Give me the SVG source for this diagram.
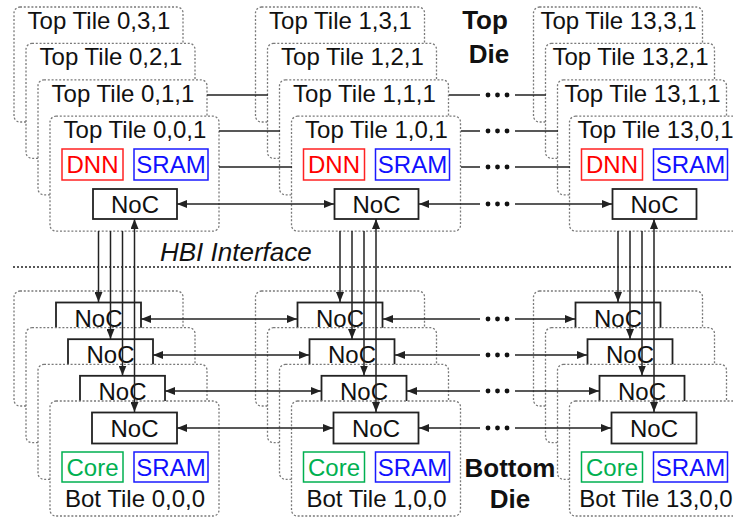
<svg xmlns="http://www.w3.org/2000/svg" width="733" height="517" viewBox="0 0 733 517">
  <style>
    text { font-family: "Liberation Sans", Arial, sans-serif; font-size: 24px; fill: #111; }
    .tile { fill: #fff; stroke: #7a7a7a; stroke-width: 1.3; stroke-dasharray: 2 1.8; }
    .noc { fill: #fff; stroke: #222; stroke-width: 1.8; }
    .dnn { fill: #fff; stroke: #f22; stroke-width: 1.5; }
    .sram { fill: #fff; stroke: #1a1aff; stroke-width: 1.5; }
    .core { fill: #fff; stroke: #00b050; stroke-width: 1.5; }
    .t-dnn { fill: #f00; }
    .t-sram { fill: #1010ff; }
    .t-core { fill: #00b050; }
    .c { text-anchor: middle; }
    .die { font-weight: bold; font-size: 26px; text-anchor: middle; }
    .hbi { font-style: italic; font-size: 26px; }
    .wire { fill: none; stroke: #222; stroke-width: 1.5; }
    .arr { marker-end: url(#ah); }
    .bi { marker-start: url(#ah); marker-end: url(#ah); }
    .dot { fill: #111; }
    .iface { stroke: #222; stroke-width: 1.3; stroke-dasharray: 2 2; }
  </style>
  <defs>
    <marker id="ah" viewBox="0 0 10 8" refX="10" refY="4" markerWidth="10" markerHeight="8" markerUnits="userSpaceOnUse" orient="auto-start-reverse">
      <path d="M0,0 L10,4 L0,8 Z" fill="#222"/>
    </marker>
  </defs>

  <rect width="733" height="517" fill="#fff"/>

  <!-- Top die, column 0 -->
  <g id="top-tile-0-3-1"><rect class="tile" x="14" y="7" width="169" height="115" rx="6"/><text class="c" x="99" y="29">Top Tile 0,3,1</text></g>
  <g id="top-tile-0-2-1"><rect class="tile" x="26" y="43.4" width="169" height="115" rx="6"/><text class="c" x="111" y="65.4">Top Tile 0,2,1</text></g>
  <g id="top-tile-0-1-1"><rect class="tile" x="38" y="79.8" width="169" height="115" rx="6"/><text class="c" x="123" y="101.8">Top Tile 0,1,1</text></g>
  <g id="top-tile-0-0-1">
    <rect class="tile" x="50" y="116.2" width="169" height="115" rx="6"/>
    <text class="c" x="135" y="138.2">Top Tile 0,0,1</text>
    <rect class="dnn" x="62" y="149" width="61" height="31"/><text class="c t-dnn" x="92.5" y="173">DNN</text>
    <rect class="sram" x="134" y="149" width="74" height="31"/><text class="c t-sram" x="171" y="173">SRAM</text>
    <rect class="noc" x="93" y="189" width="84" height="30"/><text class="c" x="135" y="212.5">NoC</text>
  </g>

  <!-- Top die, column 1 -->
  <g id="top-tile-1-3-1"><rect class="tile" x="255.5" y="7" width="169" height="115" rx="6"/><text class="c" x="340.5" y="29">Top Tile 1,3,1</text></g>
  <g id="top-tile-1-2-1"><rect class="tile" x="267.5" y="43.4" width="169" height="115" rx="6"/><text class="c" x="352.5" y="65.4">Top Tile 1,2,1</text></g>
  <g id="top-tile-1-1-1"><rect class="tile" x="279.5" y="79.8" width="169" height="115" rx="6"/><text class="c" x="364.5" y="101.8">Top Tile 1,1,1</text></g>
  <g id="top-tile-1-0-1">
    <rect class="tile" x="291.5" y="116.2" width="169" height="115" rx="6"/>
    <text class="c" x="376.5" y="138.2">Top Tile 1,0,1</text>
    <rect class="dnn" x="303.5" y="149" width="61" height="31"/><text class="c t-dnn" x="334" y="173">DNN</text>
    <rect class="sram" x="375.5" y="149" width="74" height="31"/><text class="c t-sram" x="412.5" y="173">SRAM</text>
    <rect class="noc" x="334.5" y="189" width="84" height="30"/><text class="c" x="376.5" y="212.5">NoC</text>
  </g>

  <!-- Top die, column 13 -->
  <g id="top-tile-13-3-1"><rect class="tile" x="533.5" y="7" width="169" height="115" rx="6"/><text class="c" x="618.5" y="29">Top Tile 13,3,1</text></g>
  <g id="top-tile-13-2-1"><rect class="tile" x="545.5" y="43.4" width="169" height="115" rx="6"/><text class="c" x="630.5" y="65.4">Top Tile 13,2,1</text></g>
  <g id="top-tile-13-1-1"><rect class="tile" x="557.5" y="79.8" width="169" height="115" rx="6"/><text class="c" x="642.5" y="101.8">Top Tile 13,1,1</text></g>
  <g id="top-tile-13-0-1">
    <rect class="tile" x="569.5" y="116.2" width="169" height="115" rx="6"/>
    <text class="c" x="655.5" y="138.2">Top Tile 13,0,1</text>
    <rect class="dnn" x="581.5" y="149" width="61" height="31"/><text class="c t-dnn" x="612" y="173">DNN</text>
    <rect class="sram" x="653.5" y="149" width="74" height="31"/><text class="c t-sram" x="690.5" y="173">SRAM</text>
    <rect class="noc" x="612.5" y="189" width="84" height="30"/><text class="c" x="654.5" y="212.5">NoC</text>
  </g>

  <!-- Bottom die, column 0 -->
  <g id="bot-tile-0-3-0"><rect class="tile" x="14" y="291" width="169" height="115" rx="6"/><rect class="noc" x="56" y="302.5" width="85" height="31"/><text class="c" x="98.5" y="326.5">NoC</text></g>
  <g id="bot-tile-0-2-0"><rect class="tile" x="26" y="327.7" width="169" height="115" rx="6"/><rect class="noc" x="68" y="339.2" width="85" height="31"/><text class="c" x="110.5" y="363">NoC</text></g>
  <g id="bot-tile-0-1-0"><rect class="tile" x="38" y="364.3" width="169" height="115" rx="6"/><rect class="noc" x="80" y="375.8" width="85" height="31"/><text class="c" x="122.5" y="399.5">NoC</text></g>
  <g id="bot-tile-0-0-0">
    <rect class="tile" x="50" y="401" width="169" height="115" rx="6"/>
    <rect class="noc" x="92" y="412.5" width="85" height="31"/><text class="c" x="134.5" y="436.5">NoC</text>
    <rect class="core" x="62" y="452" width="61" height="30"/><text class="c t-core" x="92.5" y="475.5">Core</text>
    <rect class="sram" x="134" y="452" width="74" height="30"/><text class="c t-sram" x="171" y="475.5">SRAM</text>
    <text class="c" x="135" y="507">Bot Tile 0,0,0</text>
  </g>

  <!-- Bottom die, column 1 -->
  <g id="bot-tile-1-3-0"><rect class="tile" x="255.5" y="291" width="169" height="115" rx="6"/><rect class="noc" x="297.5" y="302.5" width="85" height="31"/><text class="c" x="340" y="326.5">NoC</text></g>
  <g id="bot-tile-1-2-0"><rect class="tile" x="267.5" y="327.7" width="169" height="115" rx="6"/><rect class="noc" x="309.5" y="339.2" width="85" height="31"/><text class="c" x="352" y="363">NoC</text></g>
  <g id="bot-tile-1-1-0"><rect class="tile" x="279.5" y="364.3" width="169" height="115" rx="6"/><rect class="noc" x="321.5" y="375.8" width="85" height="31"/><text class="c" x="364" y="399.5">NoC</text></g>
  <g id="bot-tile-1-0-0">
    <rect class="tile" x="291.5" y="401" width="169" height="115" rx="6"/>
    <rect class="noc" x="333.5" y="412.5" width="85" height="31"/><text class="c" x="376" y="436.5">NoC</text>
    <rect class="core" x="303.5" y="452" width="61" height="30"/><text class="c t-core" x="334" y="475.5">Core</text>
    <rect class="sram" x="375.5" y="452" width="74" height="30"/><text class="c t-sram" x="412.5" y="475.5">SRAM</text>
    <text class="c" x="376.5" y="507">Bot Tile 1,0,0</text>
  </g>

  <!-- Bottom die, column 13 -->
  <g id="bot-tile-13-3-0"><rect class="tile" x="533.5" y="291" width="169" height="115" rx="6"/><rect class="noc" x="575.5" y="302.5" width="85" height="31"/><text class="c" x="618" y="326.5">NoC</text></g>
  <g id="bot-tile-13-2-0"><rect class="tile" x="545.5" y="327.7" width="169" height="115" rx="6"/><rect class="noc" x="587.5" y="339.2" width="85" height="31"/><text class="c" x="630" y="363">NoC</text></g>
  <g id="bot-tile-13-1-0"><rect class="tile" x="557.5" y="364.3" width="169" height="115" rx="6"/><rect class="noc" x="599.5" y="375.8" width="85" height="31"/><text class="c" x="642" y="399.5">NoC</text></g>
  <g id="bot-tile-13-0-0">
    <rect class="tile" x="569.5" y="401" width="169" height="115" rx="6"/>
    <rect class="noc" x="611.5" y="412.5" width="85" height="31"/><text class="c" x="654" y="436.5">NoC</text>
    <rect class="core" x="581.5" y="452" width="61" height="30"/><text class="c t-core" x="612" y="475.5">Core</text>
    <rect class="sram" x="653.5" y="452" width="74" height="30"/><text class="c t-sram" x="690.5" y="475.5">SRAM</text>
    <text class="c" x="656" y="507">Bot Tile 13,0,0</text>
  </g>

  <!-- Die labels and the hybrid-bonding interface -->
  <g id="labels">
    <text class="die" x="485" y="29">Top</text>
    <text class="die" x="489" y="63">Die</text>
    <text class="die" x="510" y="477">Bottom</text>
    <text class="die" x="510" y="508">Die</text>
    <line class="iface" x1="13" y1="267" x2="733" y2="267"/>
    <text class="hbi" x="160" y="261">HBI Interface</text>
  </g>

  <g id="connectors">
    <!-- top die links, column 0 to column 1 -->
    <path class="wire" d="M207,95 H268 M219,131 H280 M219,167 H292"/>
    <path class="wire bi" d="M177,204 H334"/>
    <!-- top die, column 1 to the ellipsis -->
    <path class="wire" d="M449,95 H480 M461,131 H480 M461,167 H480"/>
    <path class="wire arr" d="M480,204 H419"/>
    <!-- top die, ellipsis to column 13 -->
    <path class="wire" d="M515,95 H546 M515,131 H558 M515,167 H570"/>
    <path class="wire arr" d="M515,204 H612"/>

    <!-- bottom die links -->
    <path class="wire bi" d="M141,319 H297"/>
    <path class="wire bi" d="M153,355 H309"/>
    <path class="wire bi" d="M165,391 H321"/>
    <path class="wire bi" d="M177,428 H333"/>
    <path class="wire arr" d="M480,319 H383"/>
    <path class="wire arr" d="M480,355 H395"/>
    <path class="wire arr" d="M480,391 H407"/>
    <path class="wire arr" d="M480,428 H419"/>
    <path class="wire arr" d="M515,319 H575"/>
    <path class="wire arr" d="M515,355 H587"/>
    <path class="wire arr" d="M515,391 H599"/>
    <path class="wire arr" d="M515,428 H611"/>

    <!-- vertical links through the interface -->
    <path class="wire arr" d="M98.5,231 V302"/>
    <path class="wire arr" d="M110.5,231 V339"/>
    <path class="wire arr" d="M122.5,231 V375.5"/>
    <path class="wire bi" d="M134.5,219 V412"/>
    <path class="wire arr" d="M340,231 V302"/>
    <path class="wire arr" d="M352,231 V339"/>
    <path class="wire arr" d="M364,231 V375.5"/>
    <path class="wire bi" d="M376,219 V412"/>
    <path class="wire arr" d="M618,231 V302"/>
    <path class="wire arr" d="M630,231 V339"/>
    <path class="wire arr" d="M642,231 V375.5"/>
    <path class="wire bi" d="M654,219 V412"/>

    <!-- ellipses -->
    <g class="dot">
      <circle cx="488" cy="95" r="2.4"/><circle cx="497.5" cy="95" r="2.4"/><circle cx="507" cy="95" r="2.4"/>
      <circle cx="488" cy="131" r="2.4"/><circle cx="497.5" cy="131" r="2.4"/><circle cx="507" cy="131" r="2.4"/>
      <circle cx="488" cy="167" r="2.4"/><circle cx="497.5" cy="167" r="2.4"/><circle cx="507" cy="167" r="2.4"/>
      <circle cx="488" cy="204" r="2.4"/><circle cx="497.5" cy="204" r="2.4"/><circle cx="507" cy="204" r="2.4"/>
      <circle cx="488" cy="319" r="2.4"/><circle cx="497.5" cy="319" r="2.4"/><circle cx="507" cy="319" r="2.4"/>
      <circle cx="488" cy="355" r="2.4"/><circle cx="497.5" cy="355" r="2.4"/><circle cx="507" cy="355" r="2.4"/>
      <circle cx="488" cy="391" r="2.4"/><circle cx="497.5" cy="391" r="2.4"/><circle cx="507" cy="391" r="2.4"/>
      <circle cx="488" cy="428" r="2.4"/><circle cx="497.5" cy="428" r="2.4"/><circle cx="507" cy="428" r="2.4"/>
    </g>
  </g>
</svg>
